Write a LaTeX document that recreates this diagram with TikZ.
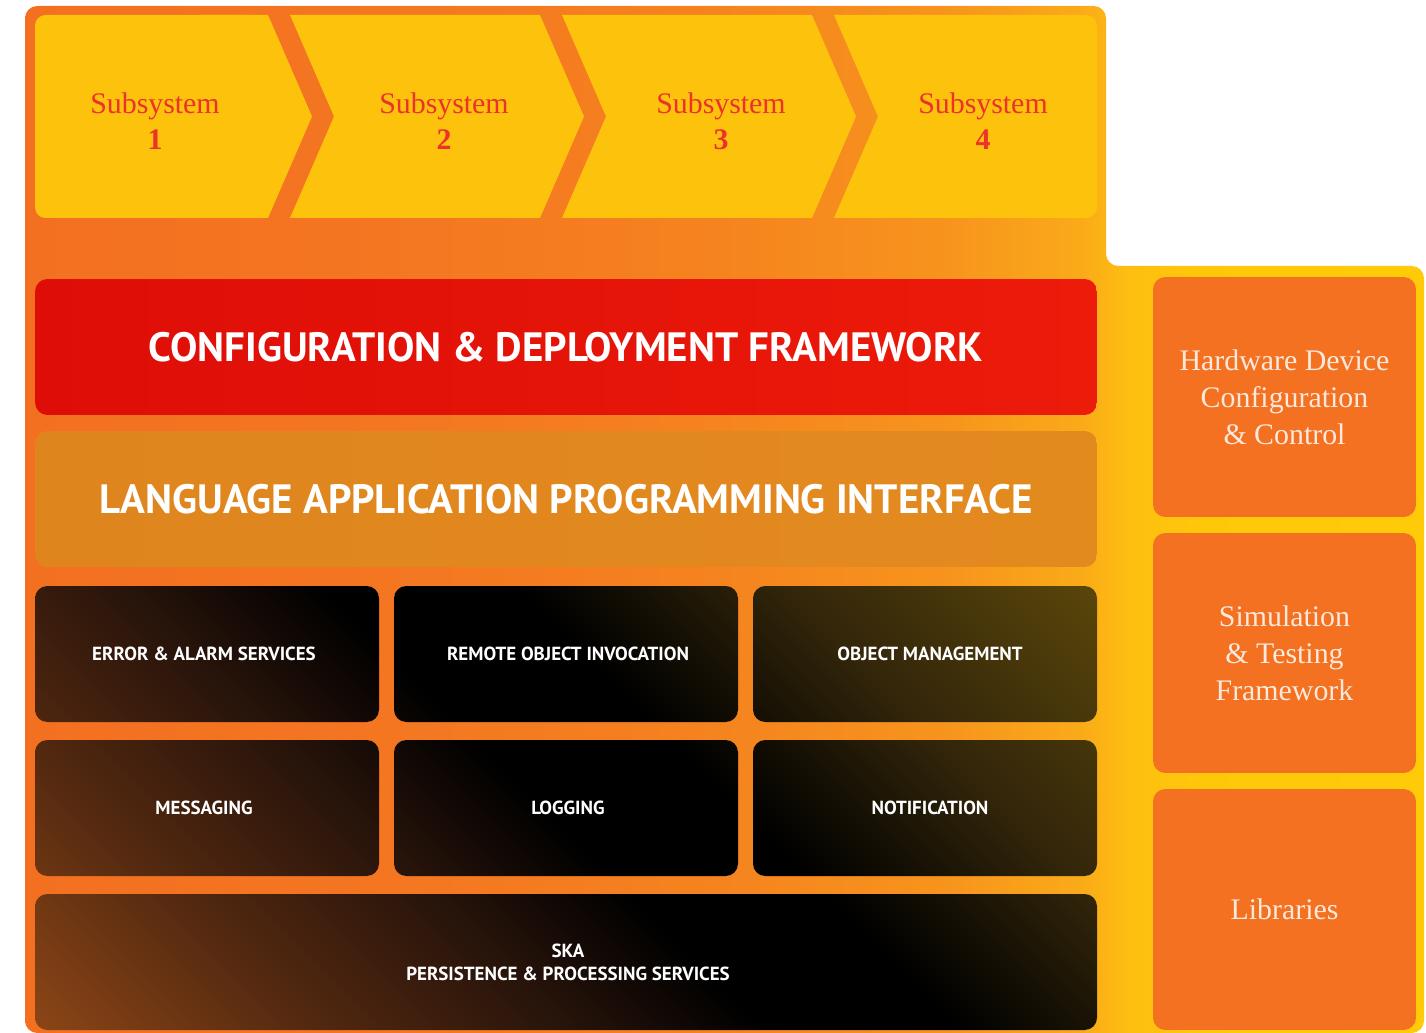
\documentclass[tikz,border=0pt]{standalone}
\usepackage{fontspec}
\setmainfont{Liberation Serif}
\newfontfamily\dinfont{PT Sans}
\usepackage{xcolor}
\definecolor{skaorange}{HTML}{F37121}
\definecolor{skayellow}{HTML}{FDC20C}
\definecolor{skared}{HTML}{DE0D07}
\definecolor{skaredR}{HTML}{EC1B0A}
\definecolor{skaamber}{HTML}{DF851E}
\definecolor{skaamberR}{HTML}{E38A1F}
\definecolor{skatext}{HTML}{EC322B}
\definecolor{skacream}{HTML}{FCE9DC}
% background band, left to right
\definecolor{bgA}{HTML}{F37021}
\definecolor{bgB}{HTML}{F47621}
\definecolor{bgC}{HTML}{F5821F}
\definecolor{bgD}{HTML}{F7941D}
\definecolor{bgE}{HTML}{FAAA19}
\definecolor{bgF}{HTML}{FEBF10}
\definecolor{bgG}{HTML}{FFC70A}
\definecolor{bgH}{HTML}{FFCB08}
% service blocks, bottom left to top right
\definecolor{dkA}{HTML}{8B4516}
\definecolor{dkB}{HTML}{522810}
\definecolor{dkC}{HTML}{26130A}
\definecolor{dkD}{HTML}{33260A}
\definecolor{dkE}{HTML}{5A460A}
\pgfdeclarehorizontalshading{skaband}{100bp}{color(0bp)=(bgA); color(25bp)=(bgA);
  color(38bp)=(bgB); color(49bp)=(bgC); color(58bp)=(bgD); color(62.7bp)=(bgE);
  color(64.5bp)=(bgF); color(67bp)=(bgG); color(75bp)=(bgH); color(100bp)=(bgH)}
\pgfdeclarehorizontalshading{darkband}{100bp}{color(0bp)=(dkA); color(14.6bp)=(dkA);
  color(28bp)=(dkB); color(40bp)=(dkC); color(49bp)=(black); color(58bp)=(black);
  color(71bp)=(dkD); color(85.4bp)=(dkE); color(100bp)=(dkE)}
\tikzset{
    subtext/.style={
        align=center,text=skatext,font=\fontsize{17}{20.5}\selectfont
    },
    layer/.style={
        rounded corners=7pt,inner sep=0pt,minimum width=21.24cm,minimum height=2.72cm,
        text=white,font=\dinfont\bfseries\fontsize{23.3}{28}\selectfont
    },
    svcbox/.style={
        rounded corners=7pt,inner sep=0pt,minimum width=6.88cm,minimum height=2.72cm,
        align=center,text=white,font=\dinfont\bfseries\fontsize{10.8}{13}\selectfont
    },
    sidebox/.style={
        fill=skaorange,rounded corners=7pt,inner sep=0pt,minimum width=5.26cm,
        minimum height=4.8cm,align=center,text=skacream,
        font=\fontsize{17}{21}\selectfont
    }
}

\begin{document}
\begin{tikzpicture}[x=0.02cm,y=-0.02cm]
\useasboundingbox (0,0) rectangle (1426,1033);

\shade[shading=skaband,rounded corners=7pt]
(25,6) -- (1106,6) -- (1106,266) -- (1424,266) -- (1424,1033) -- (25,1033) -- cycle;

% subsystem chevrons
\fill[skayellow,rounded corners=6pt] (35,15) rectangle (262,218);
\fill[skayellow] (200,15) -- (268,15) -- (312,116.5) -- (268,218) -- (200,218) -- cycle;
\foreach \x in {290,562}
  \fill[skayellow] (\x,15) -- ({\x+250},15) -- ({\x+294},116.5) -- ({\x+250},218)
    -- (\x,218) -- ({\x+44},116.5) -- cycle;
\fill[skayellow,rounded corners=6pt] (880,15) rectangle (1097,218);
\fill[skayellow] (834,15) -- (920,15) -- (920,218) -- (834,218) -- (878,116.5) -- cycle;

\foreach \x/\n in {155/1,444/2,721/3,983/4}
  \node[subtext] (sub\n) at (\x,121) {Subsystem\\\textbf{\n}};

\node[layer,left color=skared,right color=skaredR] (cdf) at (566,347)
{CONFIGURATION \& DEPLOYMENT FRAMEWORK};
\node[layer,left color=skaamber,right color=skaamberR] (lapi) at (566,499)
{LANGUAGE APPLICATION PROGRAMMING INTERFACE};

% one gradient across all service blocks
\begin{scope}
\clip[rounded corners=7pt]
  (35,586) rectangle (379,722) (394,586) rectangle (738,722) (753,586) rectangle (1097,722)
  (35,740) rectangle (379,876) (394,740) rectangle (738,876) (753,740) rectangle (1097,876)
  (35,894) rectangle (1097,1030);
\shade[shading=darkband,shading angle=45] (35,586) rectangle (1097,1030);
\end{scope}

\node[svcbox] (err) at (204,654) {ERROR \& ALARM SERVICES};
\node[svcbox] (roi) at (568,654) {REMOTE OBJECT INVOCATION};
\node[svcbox] (objm) at (930,654) {OBJECT MANAGEMENT};
\node[svcbox] (msg) at (204,808) {MESSAGING};
\node[svcbox] (logg) at (568,808) {LOGGING};
\node[svcbox] (notif) at (930,808) {NOTIFICATION};
\node[svcbox,minimum width=21.24cm] (pps) at (568,962)
{SKA\\PERSISTENCE \& PROCESSING SERVICES};

\node[sidebox] (hw) at (1284.5,397) {Hardware Device\\Configuration\\\& Control};
\node[sidebox] (sim) at (1284.5,653) {Simulation\\\& Testing\\Framework};
\node[sidebox,minimum height=4.82cm] (libs) at (1284.5,909.5) {Libraries};

\end{tikzpicture}
\end{document}
